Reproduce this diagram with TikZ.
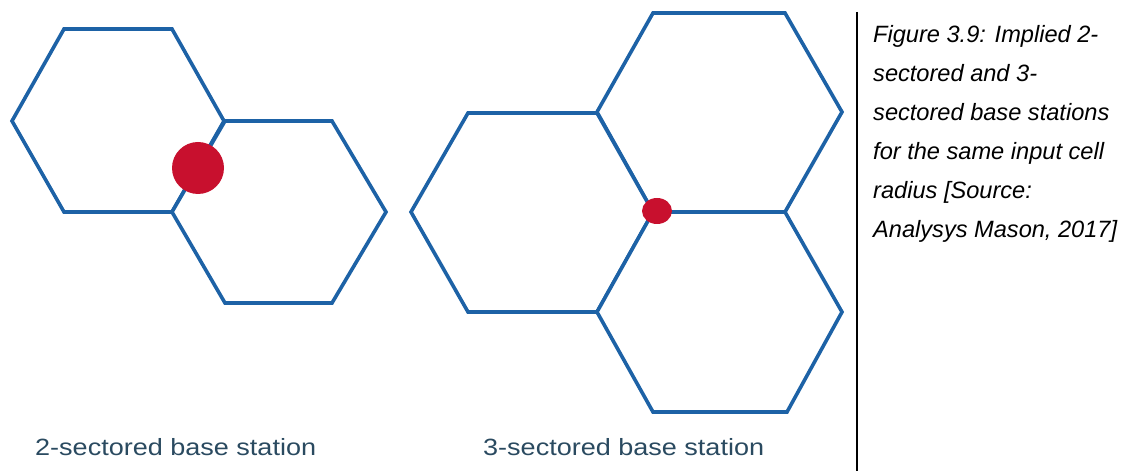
\documentclass[tikz,border=0pt]{standalone}
\usepackage{fontspec}
\setmainfont{Liberation Sans}
\usepackage{graphicx}
\definecolor{hexblue}{HTML}{1D62A6}
\definecolor{bsred}{HTML}{C8102E}
\definecolor{labelgrey}{HTML}{2A4A60}
\tikzset{
  hexcell/.style={draw=hexblue, line width=3.6bp, line join=miter, fill=white},
  station/.style={fill=bsred, draw=none},
  caplabel/.style={anchor=base west, inner sep=0pt, font=\fontsize{23.6bp}{28bp}\selectfont\itshape, text=black},
  sublabel/.style={anchor=base west, inner sep=0pt, font=\fontsize{23.5bp}{28bp}\selectfont, text=labelgrey}
}
\begin{document}
\begin{tikzpicture}[x=1bp,y=-1bp]
\useasboundingbox (0,0) rectangle (1129,471);
% two-sectored
\draw[hexcell] (12,121) -- (64,29) -- (172,29) -- (224,121) -- (172,212) -- (64,212) -- cycle;
\draw[hexcell] (172,212) -- (225,121) -- (332,121) -- (386,212) -- (332,303) -- (225,303) -- cycle;
\fill[station] (198,168) circle (26);
% three-sectored
\draw[hexcell] (597,112) -- (653,13) -- (785,13) -- (842,112) -- (785,212) -- (653,212) -- cycle;
\draw[hexcell] (411,212) -- (468,113) -- (597,113) -- (653,212) -- (597,312) -- (468,312) -- cycle;
\draw[hexcell] (597,312) -- (653,212) -- (785,212) -- (842,312) -- (787,412) -- (653,412) -- cycle;
\fill[station] (657,211) ellipse [x radius=15, y radius=13];
% labels
\node[sublabel] (l2) at (35,455) {\scalebox{1.15}[1]{2-sectored base station}};
\node[sublabel] (l3) at (483,455) {\scalebox{1.15}[1]{3-sectored base station}};
% separator
\coordinate (sepTop) at (857,12);
\coordinate (sepBot) at (857,471);
\draw[line width=2.2bp, black] (sepTop) -- (sepBot);
% caption
\node[caplabel] (c1) at (873,43) {Figure 3.9: Implied 2-};
\node[caplabel] (c2) at (873,82) {sectored and 3-};
\node[caplabel] (c3) at (873,121) {sectored base stations};
\node[caplabel] (c4) at (873,160) {for the same input cell};
\node[caplabel] (c5) at (873,199) {radius [Source:};
\node[caplabel] (c6) at (873,238) {Analysys Mason, 2017]};
\end{tikzpicture}
\end{document}
